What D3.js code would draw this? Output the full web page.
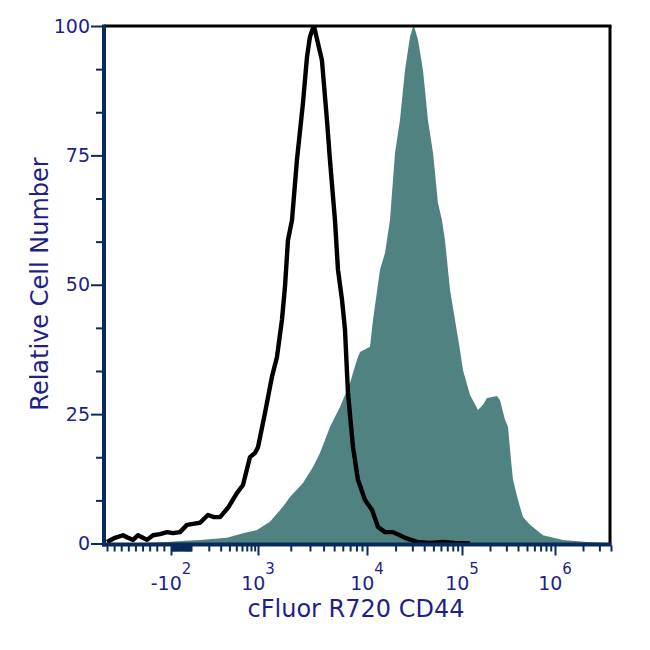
<!DOCTYPE html>
<html>
<head>
<meta charset="utf-8">
<script src="https://cdn.jsdelivr.net/npm/d3@7"></script>
<style>
  html, body { margin: 0; padding: 0; background: #fff; }
  svg { display: block; font-family: "DejaVu Sans", Verdana, sans-serif; }
</style>
</head>
<body>
<script>
// histogram of the unstained / isotype control (black outline)
const blackX = [-1000, -888, -775, -705, -634, -564, -494, -438, -353, -255,
  -156, -77, -9, 55, 109, 145, 194, 240, 294, 382,
  512, 620, 775, 909, 1000, 1159, 1343, 1493, 1660, 1770,
  1885, 2053, 2279, 2588, 2818, 3000, 3199, 3266, 3548, 3862,
  4295, 4576, 5086, 5420, 5900, 6285, 6693, 7443, 8265, 9587,
  11290, 13060, 15450, 18780, 25120, 33600, 46000, 63100, 84400, 122000];
const blackY = [0.3, 1.1, 1.6, 1.1, 0.7, 1.6, 1.1, 0.7, 1.6, 1.8,
  2.2, 2.0, 2.2, 3.6, 3.8, 4.0, 5.5, 5.1, 5.1, 6.9,
  9.8, 11.3, 16.7, 17.5, 18.6, 25.2, 32.2, 36.0, 43.2, 49.6,
  58.6, 62.5, 74.1, 85.1, 94.0, 97.9, 99.6, 100, 96.7, 93.4,
  81.8, 74.1, 62.5, 52.9, 47.1, 41.3, 29.1, 18.6, 12.3, 8.4,
  6.5, 3.2, 2.2, 2.2, 1.1, 0.3, 0.1, 0.3, 0.1, 0];

// CD44 stained sample (filled)
const tealX = [-1000, -536, -156, 0, 145, 370, 620, 968, 1288, 1694,
  1966, 2588, 3199, 3706, 4576, 5654, 6982, 8090, 8625, 10750,
  11570, 13700, 15450, 17450, 19720, 22230, 25120, 28370, 30500, 31250,
  34430, 38840, 43850, 49530, 55850, 61500, 66200, 74800, 84400, 95200,
  102500, 122000, 148600, 168200, 185700, 210200, 237800, 256200, 290000, 312400,
  336600, 353400, 400300, 452700, 538600, 743000, 1219000, 2208000, 4000000];
const tealY = [0.1, 0.1, 0.3, 0.5, 0.7, 1.1, 2.0, 2.6, 4.2, 7.1,
  9.0, 11.7, 14.8, 17.5, 22.5, 26.4, 31.0, 35.5, 37.0, 38.0,
  43.2, 52.9, 56.1, 62.5, 75.5, 81.8, 91.5, 97.9, 99.8, 100,
  97.3, 91.5, 81.8, 75.5, 65.8, 62.5, 58.6, 49.0, 43.2, 37.4,
  33.5, 28.7, 25.8, 26.8, 28.1, 28.3, 28.5, 27.7, 23.9, 22.5,
  16.1, 12.3, 8.4, 5.1, 3.6, 1.6, 0.7, 0.3, 0.1];

// axis ticks
const yMajor = [0, 25, 50, 75, 100];
const xMajor = [-100, 1e3, 1e4, 1e5, 1e6];
const xMajorBase = ["-10", "10", "10", "10", "10"];
const xMajorExp = ["2", "3", "4", "5", "6"];
const xTitle = "cFluor R720 CD44";
const yTitle = "Relative Cell Number";

document.addEventListener("DOMContentLoaded", () => {
    const width = 650, height = 650;
    const left = 104, right = 610, top = 26, bottom = 543.5;
    const navy = "#0b2a5c", ink = "#1f1f8a", teal = "#4f8280";

    // biexponential-like display: linear below -100, asinh above,
    // then a piecewise fit of the decades
    const b100 = Math.asinh(-1) / Math.LN10;
    const bx = v => v < -100 ? b100 + (v + 100) / 1000 : Math.asinh(v / 100) / Math.LN10;
    const xStops = [-1000, -100, 0, 100, 1e3, 1e4, 1e5, 1e6, 4e6];
    const x = d3.scaleLinear()
        .domain(xStops.map(bx))
        .range([107, 171, 181, 191, 258, 367, 462, 555, 611]);
    const y = d3.scaleLinear().domain([0, 100]).range([bottom, top]);

    const xMinor = [];
    for (let d = 100; d <= 1e5; d *= 10) {
        for (let k = 2; k <= 9; k++) xMinor.push(k * d);
    }
    xMinor.push(2e6, 3e6, 4e6);
    for (let k = 2; k <= 10; k++) xMinor.push(-k * 100);
    for (let k = -9; k <= 9; k++) xMinor.push(k * 10);
    xMinor.push(100);

    const svg = d3.select("body").append("svg")
        .attr("width", width).attr("height", height);

    svg.append("clipPath").attr("id", "plot")
        .append("rect")
        .attr("x", left + 2).attr("y", top)
        .attr("width", right - left - 2).attr("height", bottom - top);

    const g = svg.append("g").attr("clip-path", "url(#plot)");

    const area = d3.area()
        .x(d => x(bx(d[0])))
        .y0(y(0))
        .y1(d => y(d[1]));
    g.append("path")
        .datum(d3.zip(tealX, tealY))
        .attr("fill", teal)
        .attr("d", area);

    const line = d3.line()
        .x(d => x(bx(d[0])))
        .y(d => y(d[1]));
    g.append("path")
        .datum(d3.zip(blackX, blackY))
        .attr("fill", "none")
        .attr("stroke", "#000")
        .attr("stroke-width", 4.4)
        .attr("stroke-linejoin", "round")
        .attr("d", line);

    // axes
    const xMinorAxis = svg.append("g")
        .attr("transform", `translate(0,${bottom + 2})`)
        .call(d3.axisBottom(x).tickValues(xMinor.map(bx)).tickSize(6).tickSizeOuter(0).tickFormat(""));
    const xMajorAxis = svg.append("g")
        .attr("transform", `translate(0,${bottom + 2})`)
        .call(d3.axisBottom(x).tickValues(xMajor.map(bx)).tickSize(10).tickSizeOuter(0).tickFormat(""));

    const yMinor = d3.range(0, 100, 25 / 3).filter(v => !yMajor.some(m => Math.abs(m - v) < 0.1));
    const yMinorAxis = svg.append("g")
        .attr("transform", `translate(${left - 2},0)`)
        .call(d3.axisLeft(y).tickValues(yMinor).tickSize(6).tickSizeOuter(0).tickFormat(""));
    const yMajorAxis = svg.append("g")
        .attr("transform", `translate(${left - 2},0)`)
        .call(d3.axisLeft(y).tickValues(yMajor).tickSize(11).tickSizeOuter(0).tickPadding(1));

    [xMinorAxis, xMajorAxis, yMinorAxis, yMajorAxis].forEach(a => {
        a.select(".domain").remove();
        a.selectAll(".tick line").attr("stroke", navy).attr("stroke-width", 2);
    });
    yMajorAxis.selectAll(".tick text")
        .attr("fill", ink)
        .attr("font-size", 19)
        .attr("font-family", "DejaVu Sans, sans-serif");

    // x labels with superscript exponents
    const lab = svg.append("g").attr("fill", ink);
    xMajor.forEach((v, i) => {
        const t = lab.append("text")
            .attr("x", x(bx(v)))
            .attr("y", 590)
            .attr("text-anchor", "middle");
        t.append("tspan").attr("font-size", 19).text(xMajorBase[i]);
        t.append("tspan").attr("font-size", 15).attr("dy", -16).text(xMajorExp[i]);
    });

    // frame
    svg.append("line").attr("x1", left).attr("x2", right + 1.5)
        .attr("y1", top).attr("y2", top)
        .attr("stroke", "#000").attr("stroke-width", 3);
    svg.append("line").attr("x1", right).attr("x2", right)
        .attr("y1", top).attr("y2", bottom + 2)
        .attr("stroke", "#000").attr("stroke-width", 3);
    svg.append("line").attr("x1", left).attr("x2", left)
        .attr("y1", top - 1.5).attr("y2", bottom + 3)
        .attr("stroke", navy).attr("stroke-width", 4);
    svg.append("line").attr("x1", left - 2).attr("x2", right + 1.5)
        .attr("y1", bottom + 1).attr("y2", bottom + 1)
        .attr("stroke", navy).attr("stroke-width", 4);

    // titles
    svg.append("text")
        .attr("x", 356).attr("y", 617)
        .attr("text-anchor", "middle")
        .attr("fill", ink).attr("font-size", 24)
        .text(xTitle);
    svg.append("text")
        .attr("transform", "translate(48,284) rotate(-90)")
        .attr("text-anchor", "middle")
        .attr("fill", ink).attr("font-size", 24)
        .text(yTitle);
});
</script>
</body>
</html>
